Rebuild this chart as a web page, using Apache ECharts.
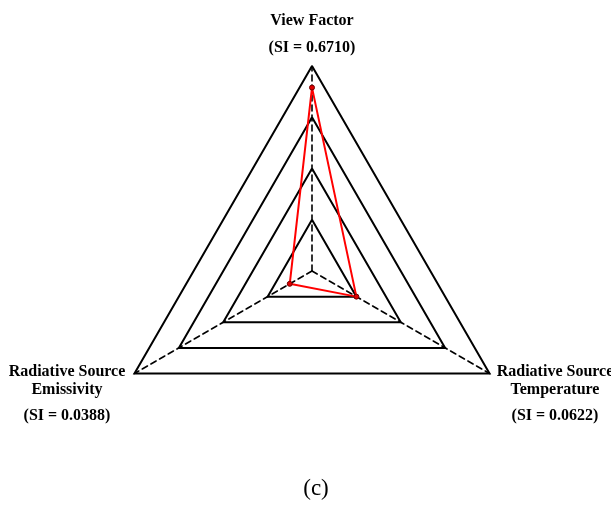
<!DOCTYPE html>
<html>
<head>
<meta charset="utf-8">
<script src="https://cdn.jsdelivr.net/npm/echarts@6/dist/echarts.min.js"></script>
<style>
  html, body { margin: 0; padding: 0; background: #fff; }
  #chart { width: 611px; height: 506px; }
</style>
</head>
<body>
<div id="chart"></div>
<script>
// Sensitivity radar: three inputs (top, lower-left, lower-right), one polygon of plotted magnitudes
const indicatorNames = ['View Factor', 'Radiative Source\nEmissivity', 'Radiative Source\nTemperature'];
const siLabels = ['(SI = 0.6710)', '(SI = 0.0388)', '(SI = 0.0622)'];
const plottedValues = [0.671, 0.094, 0.1875];
const axisMax = 0.75;

const FONT = '"Liberation Serif", "Times New Roman", serif';
const chart = echarts.init(document.getElementById('chart'));

const nameStyle = { fontFamily: FONT, fontWeight: 'bold', fontSize: 16, fill: '#000', lineHeight: 18 };
const label = (text, x, y) => ({
  type: 'text', x: x, y: y,
  style: Object.assign({ text: text, align: 'center', verticalAlign: 'middle' }, nameStyle)
});

chart.setOption({
  backgroundColor: '#fff',
  animation: false,
  radar: {
    center: [312, 271],
    radius: 205,
    startAngle: 90,
    shape: 'polygon',
    splitNumber: 4,
    indicator: indicatorNames.map(n => ({ name: n, max: axisMax, min: 0 })),
    axisName: { show: false },
    splitLine: { lineStyle: { color: '#000', width: 2 } },
    splitArea: { show: false },
    axisLine: { lineStyle: { color: '#000', width: 1.6, type: [6, 4] } },
    axisTick: { show: false },
    axisLabel: { show: false }
  },
  series: [{
    type: 'radar',
    symbol: 'circle',
    symbolSize: 5,
    lineStyle: { color: '#ff0000', width: 2 },
    itemStyle: { color: '#e00000', borderColor: '#700000', borderWidth: 1 },
    data: [{ value: plottedValues }]
  }],
  graphic: [
    label(indicatorNames[0], 312, 21),
    label(siLabels[0], 312, 48),
    label(indicatorNames[1], 67, 381),
    label(siLabels[1], 67, 416),
    label(indicatorNames[2], 555, 381),
    label(siLabels[2], 555, 416),
    { type: 'text', x: 316, y: 489, style: { text: '(c)', align: 'center', verticalAlign: 'middle', fontFamily: FONT, fontSize: 23, fill: '#000' } }
  ]
});
</script>
</body>
</html>
